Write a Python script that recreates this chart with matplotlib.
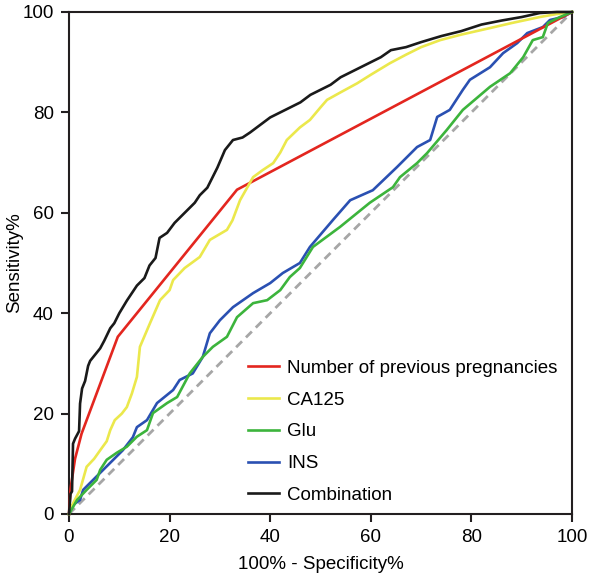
import matplotlib.pyplot as plt

plt.rcParams["font.family"] = ["Liberation Sans", "DejaVu Sans"]

# ROC curves (100% - specificity, sensitivity)
comb_x = [0, 0.3, 0.6, 0.8, 1.2, 2.0, 2.2, 2.6, 3.2, 3.8, 4.2, 5.0, 6.2, 7.0, 8.2, 9.0, 10.0,
          11.5, 12.5, 13.5, 15.0, 16.0, 17.2, 18.0, 19.5, 21.0, 22.5, 24.0, 25.0, 26.0,
          27.5, 28.5, 29.5, 31.0, 32.6, 34.5, 36.0, 38.0, 40.0, 42.0, 44.0, 46.0, 48.0,
          50.0, 52.0, 54.0, 56.0, 58.0, 60.0, 62.0, 64.0, 67.0, 70.0, 74.0, 78.0, 82.0,
          86.0, 90.0, 93.6, 97.0, 100]
comb_y = [0, 4.0, 4.5, 14.0, 15.0, 16.5, 22.0, 25.0, 26.5, 29.5, 30.5, 31.5, 33.0, 34.5,
          37.0, 38.0, 40.0, 42.5, 44.0, 45.5, 47.0, 49.5, 51.0, 55.0, 56.0, 58.0, 59.5,
          61.0, 62.0, 63.5, 65.0, 67.0, 69.0, 72.5, 74.5, 75.0, 76.0, 77.5, 79.0, 80.0,
          81.0, 82.0, 83.5, 84.5, 85.5, 87.0, 88.0, 89.0, 90.0, 91.0, 92.4, 93.0, 94.0,
          95.2, 96.2, 97.5, 98.3, 99.0, 99.8, 100, 100]

ca_x = [0, 0.2, 1.0, 2.2, 3.5, 5.0, 6.2, 7.5, 8.2, 9.1, 10.5, 11.5, 12.5, 13.5, 14.1, 16.1,
        18.1, 20.0, 20.7, 23.0, 26.0, 28.0, 31.4, 32.5, 34.0, 36.6, 38.5, 40.6, 42.0, 43.3,
        45.9, 47.9, 50.0, 51.3, 54.0, 57.3, 60.0, 63.8, 67.0, 70.0, 73.8, 78.0, 83.7, 88.0,
        93.6, 97.0, 100]
ca_y = [0, 0.8, 2.5, 4.8, 9.4, 11.0, 12.7, 14.5, 16.7, 18.7, 20.0, 21.3, 24.0, 27.3, 33.3,
        38.0, 42.6, 44.6, 46.6, 49.0, 51.2, 54.6, 56.6, 58.5, 62.5, 67.1, 68.5, 69.9, 72.0,
        74.5, 77.0, 78.5, 81.0, 82.5, 84.0, 85.8, 87.5, 89.8, 91.5, 93.0, 94.4, 95.5, 96.8,
        97.8, 99.0, 99.6, 100]

preg_x = [0, 0.3, 1.2, 2.5, 9.7, 33.4, 100]
preg_y = [0, 5.0, 11.0, 16.0, 35.3, 64.6, 100]

glu_x = [0, 1.6, 3.5, 5.5, 6.2, 7.5, 9.5, 11.5, 13.5, 15.5, 16.7, 19.5, 21.5, 24.0, 26.6,
         28.6, 31.4, 33.4, 36.6, 39.4, 42.0, 43.9, 45.9, 48.5, 53.9, 59.8, 64.4, 65.8,
         69.2, 71.2, 75.1, 78.3, 83.7, 87.7, 90.3, 92.2, 94.2, 95.2, 97.6, 100]
glu_y = [0, 2.8, 4.8, 6.8, 8.8, 10.8, 12.2, 13.4, 15.4, 16.7, 20.1, 22.1, 23.3, 28.0, 31.3,
         33.3, 35.3, 39.2, 42.0, 42.6, 44.6, 47.2, 49.0, 53.2, 57.2, 62.0, 65.1, 67.1,
         69.9, 71.9, 76.5, 80.5, 85.1, 87.8, 91.0, 94.4, 95.0, 97.8, 99.0, 100]

ins_x = [0, 0.2, 2.2, 2.8, 4.8, 6.2, 8.2, 10.7, 12.7, 13.5, 15.5, 17.5, 20.7, 22.0, 24.6,
         26.6, 28.0, 30.0, 32.6, 36.6, 40.0, 42.5, 45.9, 47.9, 52.5, 55.9, 60.4, 65.2,
         69.2, 71.8, 73.2, 75.7, 78.3, 79.7, 83.7, 86.3, 89.1, 91.1, 94.2, 95.6, 98.2, 100]
ins_y = [0, 1.4, 2.8, 4.8, 6.8, 8.2, 10.2, 12.7, 15.3, 17.3, 18.7, 22.1, 24.7, 26.7, 28.0,
         31.3, 36.0, 38.6, 41.2, 44.0, 46.0, 48.0, 50.0, 53.2, 58.6, 62.5, 64.5, 69.1,
         73.1, 74.5, 79.1, 80.5, 84.5, 86.5, 89.0, 91.8, 93.8, 95.8, 97.0, 98.4, 99.0, 100]

fig = plt.figure(figsize=(5.9, 5.8), dpi=100)
ax = fig.add_axes([69 / 590, 66 / 580, 503 / 590, 502 / 580])

ax.plot([0, 100], [0, 100], color="#a6a6a6", linewidth=2, linestyle=(0, (3, 2)), zorder=1)
ax.plot(preg_x, preg_y, color="#e3261f", linewidth=1.9, label="Number of previous pregnancies",
        clip_on=False, zorder=3)
ax.plot(ca_x, ca_y, color="#ebe84c", linewidth=1.9, label="CA125", clip_on=False, zorder=3)
ax.plot(glu_x, glu_y, color="#3cb43c", linewidth=1.9, label="Glu", clip_on=False, zorder=3)
ax.plot(ins_x, ins_y, color="#2a50b2", linewidth=1.9, label="INS", clip_on=False, zorder=2)
ax.plot(comb_x, comb_y, color="#1a1a1a", linewidth=1.9, label="Combination", clip_on=False,
        zorder=4)

ax.set_xlim(0, 100)
ax.set_ylim(0, 100)
ax.set_xticks([0, 20, 40, 60, 80, 100])
ax.set_yticks([0, 20, 40, 60, 80, 100])
for s in ax.spines.values():
    s.set_linewidth(1.5)
    s.set_color("#231f20")
ax.tick_params(axis="both", direction="out", length=6, width=1.5, labelsize=13.5,
               color="#231f20", pad=5)
ax.set_xlabel("100% - Specificity%", fontsize=13.5)
ax.set_ylabel("Sensitivity%", fontsize=13.5)
ax.yaxis.set_label_coords(-0.109, 0.5)
ax.xaxis.set_label_coords(0.5, -0.101)
ax.xaxis.label.set_va("center")
ax.yaxis.label.set_va("center")

ax.legend(loc="lower left", bbox_to_anchor=(0.355, 0.02), frameon=False, fontsize=13.5,
          borderaxespad=0, borderpad=0, handlelength=1.65, handletextpad=0.45,
          labelspacing=0.78)

fig.savefig("out.png", dpi=100)
